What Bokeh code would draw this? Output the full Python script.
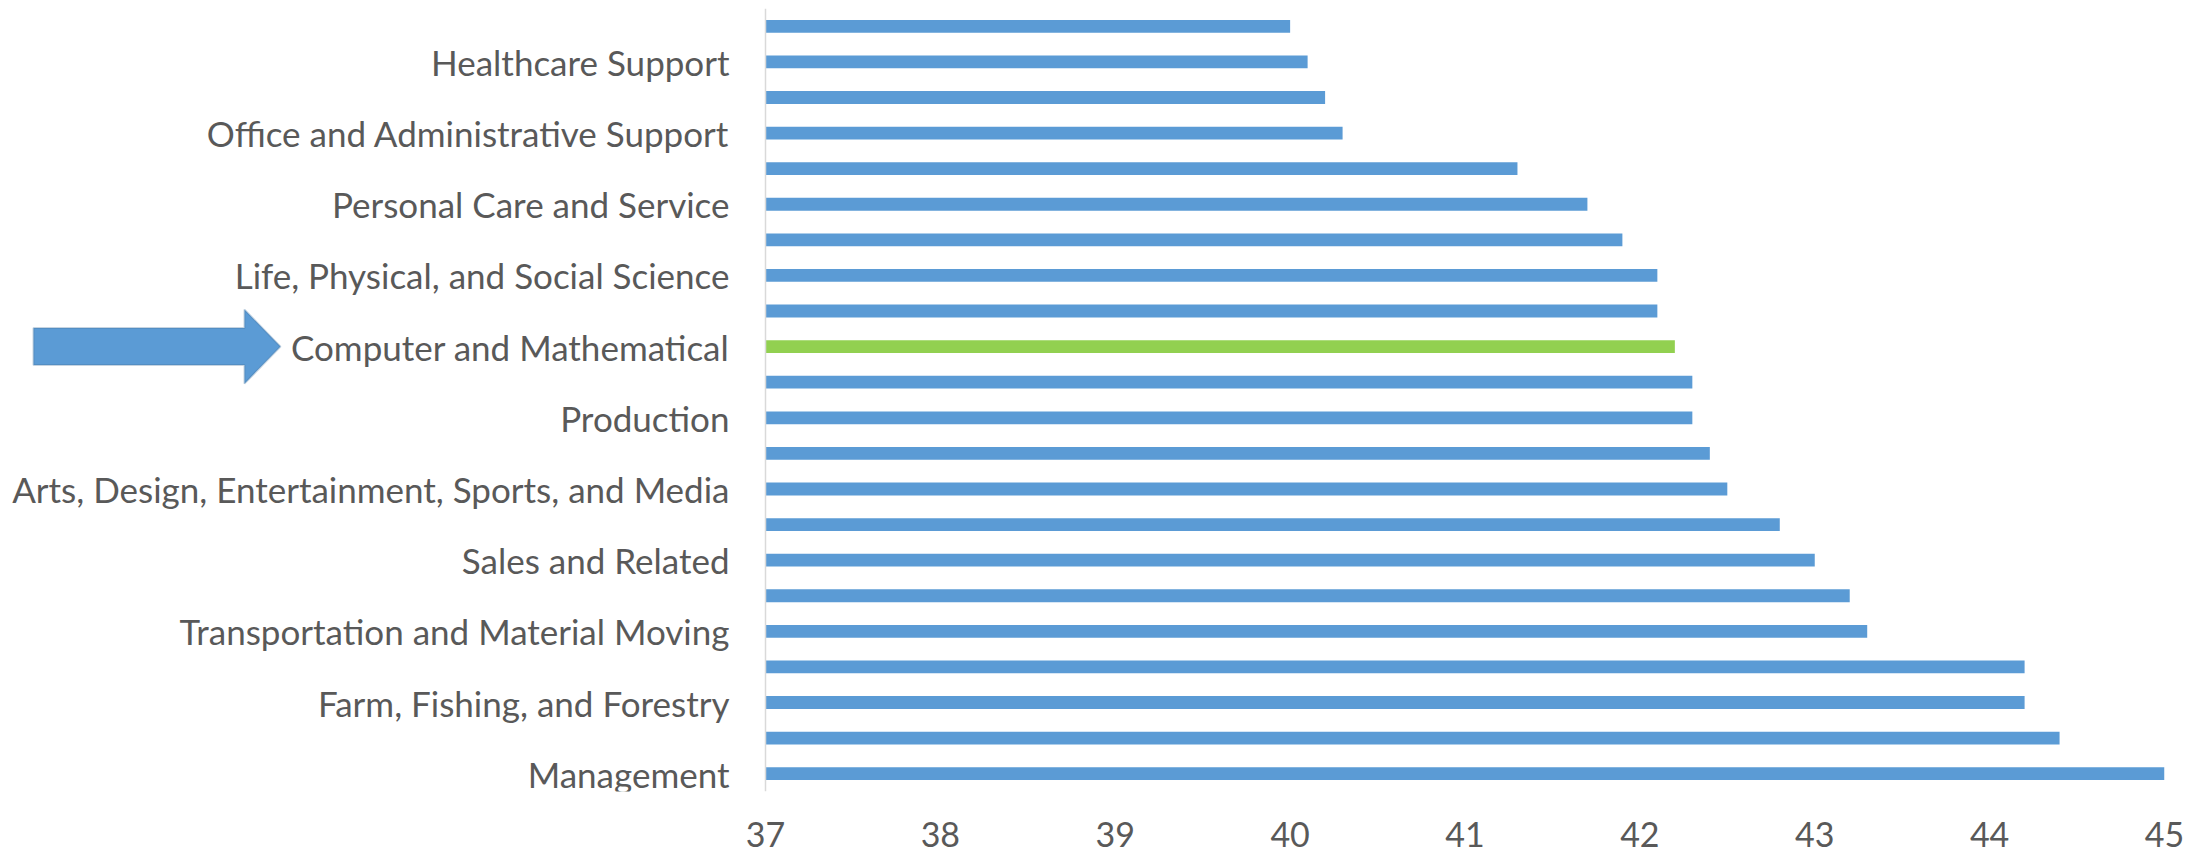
from bokeh.plotting import figure
from bokeh.models import Range1d, FixedTicker, PolyAnnotation, ColumnDataSource
from bokeh.embed import file_html
from bokeh.resources import INLINE

# Data, listed top to bottom as in the chart ("" = category without a visible label)
labels = [
    "", "Healthcare Support",
    "", "Office and Administrative Support",
    "", "Personal Care and Service",
    "", "Life, Physical, and Social Science",
    "", "Computer and Mathematical",
    "", "Production",
    "", "Arts, Design, Entertainment, Sports, and Media",
    "", "Sales and Related",
    "", "Transportation and Material Moving",
    "", "Farm, Fishing, and Forestry",
    "", "Management",
]
values = [40.0, 40.1, 40.2, 40.3, 41.3, 41.7, 41.9, 42.1, 42.1, 42.2, 42.3,
          42.3, 42.4, 42.5, 42.8, 43.0, 43.2, 43.3, 44.2, 44.2, 44.4, 45.0]
highlight = "Computer and Mathematical"
x_ticks = [37, 38, 39, 40, 41, 42, 43, 44, 45]

BLUE = "#5B9BD5"
GREEN = "#92D050"
TEXT = "#595959"
FONT = "Lato"

n = len(values)
ypos = [n - i for i in range(n)]
colors = [GREEN if lab == highlight else BLUE for lab in labels]
src = ColumnDataSource(dict(y=ypos, right=values, color=colors))

# layout in pixels: the frame spans the full width so that the arrow left of the
# value axis origin can be drawn; the category axis is pinned at x = 37
W, H = 2208, 852
RIGHT_PAD = 44
AXIS_PX = 765
x0, x1 = x_ticks[0], x_ticks[-1]
px_per_unit = (W - RIGHT_PAD - AXIS_PX) / (x1 - x0)
x_start = x0 - AXIS_PX / px_per_unit

p = figure(width=W, height=H, output_backend="svg", toolbar_location=None,
           x_range=Range1d(x_start, x1), y_range=Range1d(0.5, n + 0.5),
           min_border_left=0, min_border_right=RIGHT_PAD, min_border_top=8, min_border_bottom=61)
p.outline_line_color = None
p.background_fill_color = "white"
p.border_fill_color = "white"
p.grid.visible = False

p.hbar(y="y", left=x0, right="right", height=0.36, fill_color="color",
       line_color=None, source=src)

# y axis, pinned at the value-axis origin
yax = p.yaxis[0]
yax.fixed_location = x0
labeled = [ypos[i] for i, lab in enumerate(labels) if lab]
yax.ticker = FixedTicker(ticks=labeled)
yax.major_label_overrides = {ypos[i]: lab for i, lab in enumerate(labels) if lab}
yax.major_tick_line_color = None
yax.minor_tick_line_color = None
yax.major_tick_out = 0
yax.major_tick_in = 0
yax.axis_line_color = "#D9D9D9"
yax.axis_line_width = 1.5
yax.major_label_standoff = 36
yax.major_label_text_font = FONT
yax.major_label_text_font_size = "35px"
yax.major_label_text_color = TEXT

# x axis
xax = p.xaxis[0]
xax.ticker = FixedTicker(ticks=x_ticks)
xax.axis_line_color = None
xax.major_tick_line_color = None
xax.minor_tick_line_color = None
xax.major_tick_out = 0
xax.major_tick_in = 0
xax.major_label_standoff = 30
xax.major_label_text_font = FONT
xax.major_label_text_font_size = "34px"
xax.major_label_text_color = TEXT

# block arrow pointing at the highlighted label
yc = ypos[labels.index(highlight)]
body, head = 0.52, 1.04
arrow = PolyAnnotation(
    xs=[33, 244, 244, 280, 244, 244, 33],
    ys=[yc + body, yc + body, yc + head, yc, yc - head, yc - body, yc - body],
    xs_units="screen", ys_units="data",
    fill_color=BLUE, fill_alpha=1.0, line_color="#41719C", line_width=2,
)
p.add_layout(arrow)

open("out.html", "w").write(file_html(p, INLINE))
